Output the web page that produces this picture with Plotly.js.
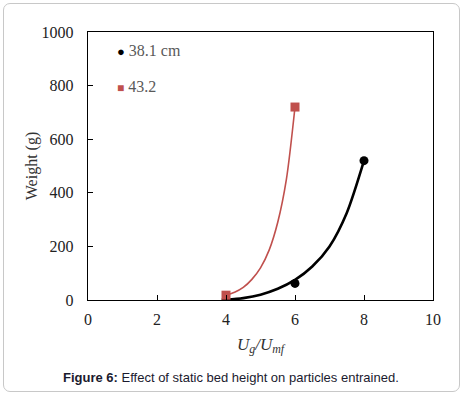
<!DOCTYPE html>
<html>
<head>
<meta charset="utf-8">
<script src="https://cdn.plot.ly/plotly-3.0.1.min.js"></script>
<style>
  body { margin: 0; background: #fff; }
  #wrap { position: relative; width: 465px; height: 399px; }
  #chart { width: 465px; height: 399px; }
  #frame { position: absolute; left: 3px; top: 3px; width: 455px; height: 387px;
           border: 1.5px solid #c8c8c8; border-radius: 7px; pointer-events: none; }
</style>
</head>
<body>
<div id="wrap">
  <div id="chart"></div>
  <div id="frame"></div>
</div>
<script>
// Measured points
const ratio381 = [4, 6, 8];
const weight381 = [0, 62, 520];
const ratio432 = [4, 6];
const weight432 = [18, 720];

// Trend curves
const trendX381 = [4, 4.5, 5, 5.5, 6, 6.5, 7, 7.5, 8];
const trendY381 = [0, 7, 20, 42, 75, 125, 200, 325, 520];
const trendX432 = [4, 4.25, 4.5, 4.75, 5, 5.25, 5.5, 5.75, 6];
const trendY432 = [18, 29, 47, 77, 120, 186, 290, 450, 720];

const legendNames = ['38.1 cm', '43.2'];
const xTicks = [0, 2, 4, 6, 8, 10];
const yTicks = [0, 200, 400, 600, 800, 1000];

const red = '#c0504d';
const serif = 'Liberation Serif, Times New Roman, serif';

const traces = [
  { x: trendX381, y: trendY381, mode: 'lines', line: { color: '#000', width: 2.6, shape: 'spline', smoothing: 0.8 }, showlegend: false, hoverinfo: 'skip' },
  { x: trendX432, y: trendY432, mode: 'lines', line: { color: red, width: 1.6, shape: 'spline', smoothing: 0.8 }, showlegend: false, hoverinfo: 'skip' },
  { x: ratio381, y: weight381, mode: 'markers', name: legendNames[0], marker: { color: '#000', size: 9, symbol: 'circle' }, showlegend: false },
  { x: ratio432, y: weight432, mode: 'markers', name: legendNames[1], marker: { color: red, size: 9, symbol: 'square' }, showlegend: false }
];

const axisCommon = {
  showline: true, linecolor: '#000', linewidth: 1.3, mirror: true,
  ticks: 'inside', ticklen: 5, tickcolor: '#000', tickwidth: 1,
  showgrid: false, zeroline: false,
  tickfont: { family: serif, size: 16, color: '#222' }
};

const layout = {
  width: 465, height: 399,
  margin: { l: 88, r: 32, t: 32, b: 99 },
  paper_bgcolor: '#fff', plot_bgcolor: '#fff',
  showlegend: false,
  xaxis: Object.assign({}, axisCommon, {
    range: [0, 10], tickvals: xTicks, ticktext: xTicks.map(String),
    ticklabelstandoff: 4,
    title: { text: '<i>U<sub>g</sub>/U<sub>mf</sub></i>', font: { family: serif, size: 17, color: '#333' }, standoff: 11 }
  }),
  yaxis: Object.assign({}, axisCommon, {
    range: [0, 1000], tickvals: yTicks, ticktext: yTicks.map(String),
    ticklabelstandoff: 10,
    title: { text: 'Weight (g)', font: { family: serif, size: 16, color: '#333' }, standoff: 0 }
  }),
  annotations: [
    { xref: 'paper', yref: 'paper', x: 0.077, y: 0.93, xanchor: 'left', yanchor: 'middle', showarrow: false,
      text: '<span style="color:#000;font-size:13px">●</span> ' + legendNames[0], font: { family: serif, size: 16, color: '#595959' } },
    { xref: 'paper', yref: 'paper', x: 0.077, y: 0.798, xanchor: 'left', yanchor: 'middle', showarrow: false,
      text: '<span style="color:' + red + ';font-size:12px">■</span> ' + legendNames[1], font: { family: serif, size: 16, color: '#595959' } },
    { xref: 'paper', yref: 'paper', x: 0.5, y: -0.29, xanchor: 'center', yanchor: 'middle', showarrow: false,
      xshift: -30,
      text: '<b>Figure 6:</b> Effect of static bed height on particles entrained.',
      font: { family: 'Liberation Sans, Arial, sans-serif', size: 13, color: '#1a1a2e' } }
  ]
};

Plotly.newPlot('chart', traces, layout, { staticPlot: true, displayModeBar: false });
</script>
</body>
</html>
